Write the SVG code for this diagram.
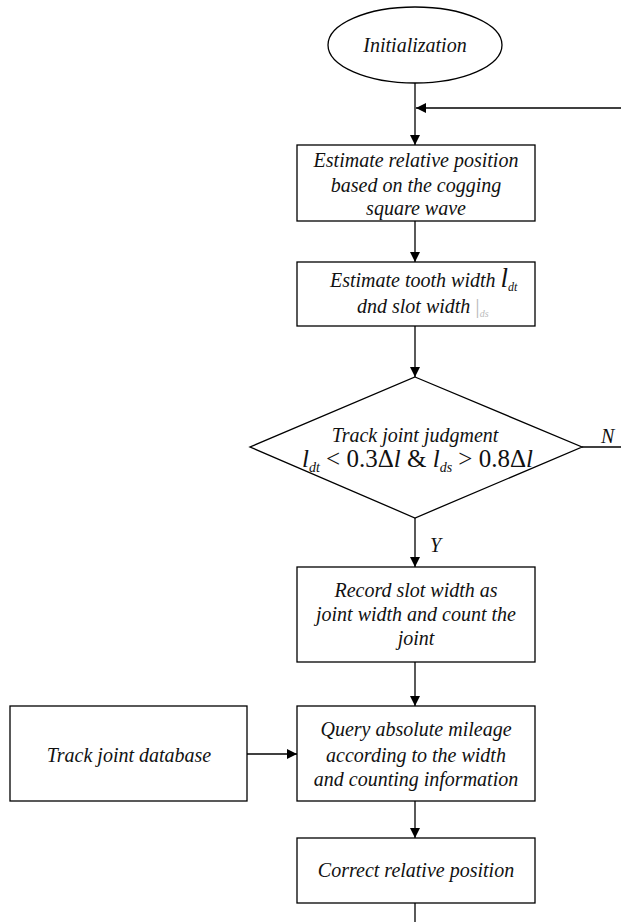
<svg xmlns="http://www.w3.org/2000/svg" width="621" height="922" viewBox="0 0 621 922">
<style>
.s{fill:#fff;stroke:#000;stroke-width:1.3}
.c{fill:none;stroke:#000;stroke-width:1.3}
.t{font-family:"Liberation Serif",serif;font-style:italic;font-size:20px;fill:#111;text-anchor:middle}
.m{font-family:"Liberation Serif",serif;font-style:italic;fill:#111}
.u{font-style:normal}
</style>
<defs>
<marker id="a" markerWidth="10" markerHeight="10" refX="10" refY="5" orient="auto" markerUnits="userSpaceOnUse">
<path d="M0,0 L10,5 L0,10 Z" fill="#000"/>
</marker>
</defs>
<rect width="621" height="922" fill="#fff"/>
<g id="connectors">
<path class="c" d="M415,83 V145" marker-end="url(#a)"/>
<path class="c" d="M621,108 H416" marker-end="url(#a)"/>
<path class="c" d="M415,221 V262" marker-end="url(#a)"/>
<path class="c" d="M415,326 V377" marker-end="url(#a)"/>
<path class="c" d="M582,447 H621"/>
<path class="c" d="M415,518 V567" marker-end="url(#a)"/>
<path class="c" d="M415,662 V706" marker-end="url(#a)"/>
<path class="c" d="M247,754 H297" marker-end="url(#a)"/>
<path class="c" d="M415,801 V838" marker-end="url(#a)"/>
<path class="c" d="M415,903 V922"/>
<text class="m" x="601" y="443" font-size="20">N</text>
<text class="m" x="430" y="552" font-size="20">Y</text>
</g>
<g id="init">
<ellipse class="s" cx="415" cy="45" rx="87" ry="38"/>
<text class="t" x="415" y="52">Initialization</text>
</g>
<g id="estpos">
<rect class="s" x="297" y="145" width="238" height="76"/>
<text class="t" x="416" y="167">Estimate relative position</text>
<text class="t" x="416" y="192">based on the cogging</text>
<text class="t" x="416" y="215">square wave</text>
</g>
<g id="estwidth">
<rect class="s" x="297" y="262" width="238" height="64"/>
<text class="m" x="330" y="287" font-size="20">Estimate tooth width <tspan font-size="27">l</tspan><tspan font-size="12" dy="4">dt</tspan></text>
<text class="m" x="357" y="313" font-size="20">dnd slot width <tspan font-size="22" fill="#bbb" font-style="normal">|</tspan><tspan font-size="10" dy="4" fill="#bbb">ds</tspan></text>
</g>
<g id="judge">
<path class="s" d="M415,377 L582,447 L415,518 L250,447 Z"/>
<text class="t" x="415" y="442">Track joint judgment</text>
<text class="m" x="302" y="467" font-size="25">l<tspan font-size="14" dy="5">dt</tspan><tspan class="u" dy="-5"> &lt; 0.3Δ</tspan>l<tspan class="u"> &amp; </tspan>l<tspan font-size="14" dy="5">ds</tspan><tspan class="u" dy="-5"> &gt; 0.8Δ</tspan>l</text>
</g>
<g id="record">
<rect class="s" x="297" y="567" width="238" height="95"/>
<text class="t" x="416" y="597">Record slot width as</text>
<text class="t" x="416" y="621">joint width and count the</text>
<text class="t" x="416" y="645">joint</text>
</g>
<g id="database">
<rect class="s" x="10" y="706" width="237" height="95"/>
<text class="t" x="129" y="762">Track joint database</text>
</g>
<g id="query">
<rect class="s" x="297" y="706" width="238" height="95"/>
<text class="t" x="416" y="736">Query absolute mileage</text>
<text class="t" x="416" y="762">according to the width</text>
<text class="t" x="416" y="786">and counting information</text>
</g>
<g id="correct">
<rect class="s" x="297" y="838" width="238" height="65"/>
<text class="t" x="416" y="877">Correct relative position</text>
</g>
</svg>
